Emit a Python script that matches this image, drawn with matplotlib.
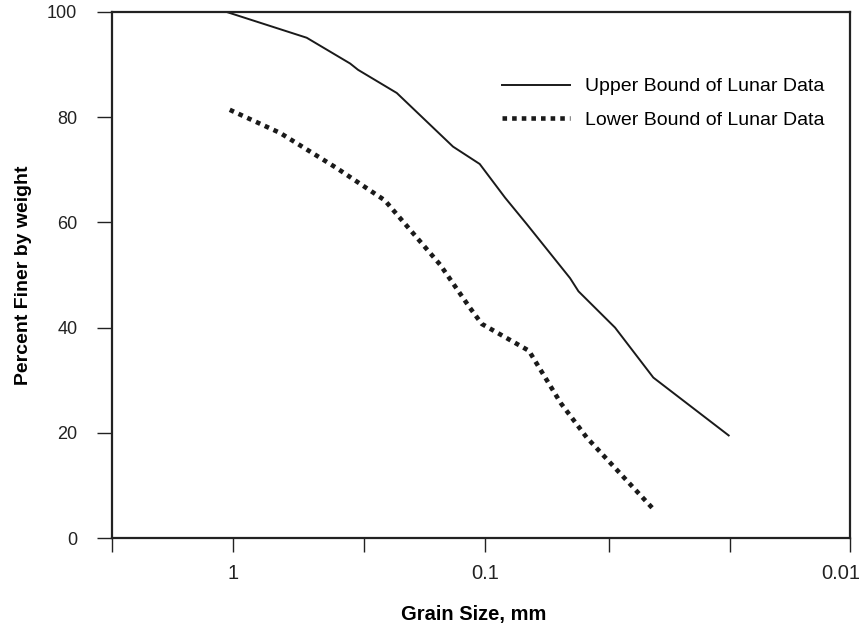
import numpy as np
import matplotlib.pyplot as plt
from matplotlib.transforms import ScaledTranslation

# grain size (mm) and percent finer
upper_size = [1.06, 0.51, 0.343, 0.319, 0.224, 0.134, 0.105, 0.0833, 0.0684,
              0.046, 0.0426, 0.0305, 0.0215, 0.0108]
upper_pct = [100, 95.1, 90.2, 89.0, 84.6, 74.4, 71.1, 64.7, 59.7,
             49.4, 46.9, 40.0, 30.5, 19.5]

lower_size = [1.03, 0.65, 0.39, 0.25, 0.151, 0.115, 0.103, 0.067,
              0.05, 0.0395, 0.0215]
lower_pct = [81.4, 77.0, 70.4, 64.2, 52.0, 43.8, 40.7, 35.6,
             25.6, 19.1, 5.5]

y_ticks = [0, 20, 40, 60, 80, 100]
x_tick_labels = ["", "1", "", "0.1", "", "", "0.01"]

plt.rcParams["font.family"] = ["Liberation Sans", "DejaVu Sans"]
narrow = ["Liberation Sans Narrow", "Liberation Sans"]

fig = plt.figure(figsize=(8.65, 6.3), dpi=100)
ax = fig.add_axes([0.1295, 0.146, 0.8532, 0.835])

ax.plot(upper_size, upper_pct, color="#1a1a1a", lw=1.4,
        label="Upper Bound of Lunar Data")
ax.plot(lower_size, lower_pct, color="#1a1a1a", lw=3.3,
        linestyle=(0, (1, 1.1)), label="Lower Bound of Lunar Data")

ax.set_xscale("log")
ax.set_xlim(10 ** 0.48, 10 ** -2.448)
ax.set_ylim(0, 100)

x_ticks = 10 ** np.array([0.48, 0.0, -0.52, -1.0, -1.49, -1.97, -2.448])
ax.set_xticks(x_ticks)
ax.set_xticklabels(x_tick_labels, family=narrow, fontsize=14.5)
ax.xaxis.set_minor_locator(plt.NullLocator())
ax.set_yticks(y_ticks)
ax.set_yticklabels([str(v) for v in y_ticks], fontsize=13)

ax.tick_params(axis="both", direction="out", width=1.0, colors="#222222")
ax.tick_params(axis="y", length=11, pad=14)
ax.tick_params(axis="x", length=10, pad=9)
for sp in ax.spines.values():
    sp.set_linewidth(1.6)
    sp.set_color("#222222")

# last label sits a touch left of its tick, like in the original
last = ax.xaxis.get_major_ticks()[-1].label1
last.set_transform(last.get_transform() +
                   ScaledTranslation(-9 / 100, 0, fig.dpi_scale_trans))

ax.set_xlabel("Grain Size, mm", fontsize=14.5, fontweight="bold",
              family=narrow, labelpad=10)
ax.set_ylabel("Percent Finer by weight", fontsize=14, fontweight="bold",
              family=narrow, labelpad=11)
ax.xaxis.set_label_coords(0.49, -0.128)

ax.legend(loc="upper right", bbox_to_anchor=(0.966, 0.875), frameon=False,
          fontsize=14, handlelength=3.5, handletextpad=0.8, labelspacing=0.8,
          borderpad=0, borderaxespad=0)

fig.savefig("out.png", dpi=100)
